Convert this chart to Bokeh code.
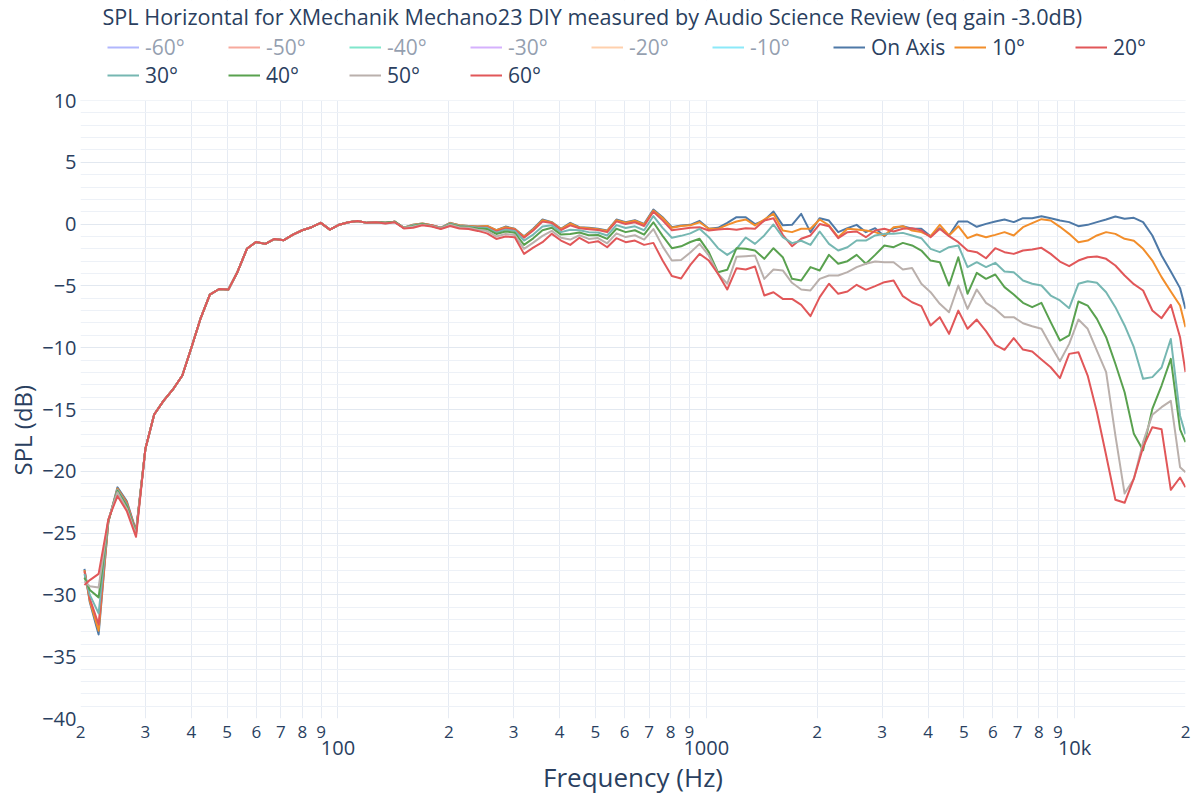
from bokeh.plotting import figure
from bokeh.models import (FixedTicker, LogAxis, Legend, LegendItem, Label, Range1d, Title,
                          CustomJSTickFormatter, BoxAnnotation)
from bokeh.embed import file_html
from bokeh.resources import INLINE

# ---------------- data ----------------
freq = [20.5, 21.2, 22.4, 23.8, 25.2, 26.7, 28.3, 30.0, 31.7, 33.6,
        35.6, 37.8, 40.0, 42.4, 44.9, 47.6, 50.4, 53.4, 56.6, 59.9,
        63.5, 67.3, 71.3, 75.5, 80.0, 84.8, 89.8, 95.1, 100.8, 106.8,
        113.1, 119.9, 127.0, 134.5, 142.5, 151.0, 160.0, 169.5, 179.6, 190.3,
        201.6, 213.6, 226.3, 239.7, 254.0, 269.1, 285.1, 302.0, 320.0, 339.0,
        359.2, 380.6, 403.2, 427.2, 452.5, 479.5, 508.0, 538.2, 570.2, 604.1,
        640.0, 678.0, 718.4, 761.1, 806.3, 854.3, 905.1, 958.9, 1016, 1076,
        1140, 1208, 1280, 1356, 1437, 1522, 1613, 1709, 1810, 1918,
        2032, 2153, 2281, 2417, 2560, 2712, 2874, 3044, 3225, 3417,
        3620, 3836, 4064, 4305, 4561, 4833, 5120, 5424, 5747, 6089,
        6451, 6834, 7241, 7671, 8127, 8611, 9123, 9665, 10240, 10849,
        11494, 12177, 12901, 13669, 14482, 15343, 16255, 17222, 18246, 19331,
        20000]

spl_on_axis = [-27.9, -30.6, -33.2, -24.1, -21.3, -22.4, -24.8,
               -18.2, -15.4, -14.3, -13.4, -12.25, -10.0, -7.6, -5.7, -5.25, -5.3, -3.85,
               -2.0, -1.45, -1.6, -1.2, -1.3, -0.85, -0.5, -0.25, 0.1, -0.45, -0.05,
               0.15, 0.25, 0.1, 0.15, 0.1, 0.2, -0.3, -0.05, 0.05, -0.1, -0.3, 0.1, -0.1,
               -0.15, -0.2, -0.15, -0.5, -0.2,
               -0.38, -0.98, -0.38, 0.37, 0.16, -0.38, 0.1, -0.25, -0.3, -0.38, -0.52,
               0.37, 0.16, 0.32, 0.02, 1.18, 0.56, -0.25, -0.11, -0.06, 0.26,
               -0.38, -0.3, 0.1, 0.56, 0.56, 0.0, 0.29, 1.02, -0.1, -0.06, 0.83, -0.65,
               0.48, 0.29, -0.65, -0.33, -0.06, -0.65, -0.33, -0.98, -0.33, -0.17, -0.38,
               -0.38, -0.98, -0.33, -0.92,
               0.21, 0.21, -0.22, 0.02, 0.21, 0.37, 0.16, 0.48, 0.48, 0.64, 0.48, 0.29,
               0.16, -0.17, -0.06, 0.16, 0.37, 0.61, 0.43, 0.51, 0.16, -0.92, -2.54,
               -3.84, -5.18, -6.86]

spl_10 = [-28.0, -30.5, -32.9, -24.1, -21.4, -22.5, -24.9,
          -18.2, -15.4, -14.3, -13.4, -12.25, -10.0, -7.6, -5.7, -5.25, -5.3, -3.85,
          -2.0, -1.45, -1.6, -1.2, -1.3, -0.85, -0.5, -0.25, 0.1, -0.45, -0.05,
          0.15, 0.25, 0.1, 0.15, 0.1, 0.2, -0.3, -0.05, 0.05, -0.1, -0.3, 0.1, -0.1,
          -0.15, -0.2, -0.15, -0.5, -0.25,
          -0.4, -1.02, -0.43, 0.32, 0.14, -0.4, 0.05, -0.28, -0.33, -0.41, -0.55,
          0.32, 0.11, 0.27, -0.03, 1.1, 0.5, -0.3, -0.15, -0.1, 0.15,
          -0.38, -0.38, -0.06, 0.21, 0.37, -0.11, 0.37, 0.83, -0.52, -0.65, -0.38,
          -0.38, 0.37, -0.11, -1.06, -0.38, -0.44, -0.52, -0.65, -0.92, -0.25, -0.17,
          -0.52, -0.65, -0.98, -0.06, -0.92,
          -0.17, -1.14, -0.84, -1.06, -0.87, -0.65, -0.92, -0.25, 0.08, 0.4, 0.29,
          -0.22, -0.79, -1.46, -1.33, -0.92, -0.65, -0.79, -1.19, -1.35, -2.0, -2.95,
          -4.29, -5.45, -6.59, -8.34]

spl_20 = [-28.1, -30.3, -32.4, -24.0, -21.5, -22.6, -24.9,
          -18.2, -15.4, -14.3, -13.4, -12.25, -10.0, -7.6, -5.7, -5.25, -5.3, -3.85,
          -2.0, -1.45, -1.6, -1.2, -1.3, -0.85, -0.5, -0.25, 0.1, -0.45, -0.05,
          0.15, 0.25, 0.1, 0.15, 0.1, 0.2, -0.3, -0.1, 0.0, -0.1, -0.3, 0.05, -0.15,
          -0.2, -0.25, -0.25, -0.6, -0.35,
          -0.45, -1.1, -0.52, 0.2, 0.08, -0.48, -0.1, -0.33, -0.42, -0.48, -0.65,
          0.22, 0.0, 0.15, -0.15, 1.0, 0.3, -0.5, -0.4, -0.3, -0.25,
          -0.52, -0.44, -0.38, -0.46, -0.33, -0.38, 0.29, 0.48, -0.87, -1.79, -1.19,
          -0.92, 0.0, -0.17, -1.14, -0.65, -0.6, -1.06, -0.52, -0.38, -0.6, -0.38,
          -0.33, -0.52, -1.06, -0.38, -0.98,
          -1.46, -2.14, -2.27, -2.76, -1.95, -2.27, -2.41, -2.14, -2.06, -1.92, -2.41,
          -3.03, -3.4, -2.95, -2.68, -2.62, -2.81, -3.35, -4.16, -4.86, -5.37, -6.99,
          -7.61, -6.53, -9.15, -11.98]

spl_30 = [-28.3, -30.0, -31.5, -24.0, -21.5, -22.7, -25.0,
          -18.2, -15.4, -14.3, -13.4, -12.25, -10.0, -7.6, -5.7, -5.25, -5.3, -3.85,
          -2.0, -1.45, -1.6, -1.2, -1.3, -0.85, -0.5, -0.25, 0.1, -0.45, -0.05,
          0.15, 0.25, 0.1, 0.15, 0.1, 0.2, -0.3, -0.1, 0.0, -0.15, -0.3, 0.05, -0.15,
          -0.2, -0.3, -0.3, -0.7, -0.45,
          -0.55, -1.33, -0.85, -0.2, -0.1, -0.65, -0.45, -0.5, -0.65, -0.68, -0.92,
          -0.08, -0.32, -0.18, -0.5, 0.65, -0.3, -1.1, -0.95, -0.75, -0.38,
          -1.06, -1.95, -2.49, -2.0, -1.08, -1.6, -0.92, -0.03, -1.06, -1.54, -1.35,
          -1.68, -0.6, -1.6, -2.14, -1.87, -1.33, -1.33, -0.92, -0.79, -0.79, -0.71,
          -0.92, -1.14, -2.0, -2.27, -1.87,
          -1.73, -3.48, -3.08, -3.48, -3.13, -3.84, -3.89, -4.56, -4.83, -4.97, -5.78,
          -6.18, -6.8, -4.83, -4.62, -4.75, -5.51, -6.72, -8.2, -9.96, -12.52, -12.38,
          -11.6, -9.3, -15.5, -17.0]

spl_40 = [-28.6, -29.6, -30.2, -24.0, -21.6, -22.8, -25.0,
          -18.2, -15.4, -14.3, -13.4, -12.25, -10.0, -7.6, -5.7, -5.25, -5.3, -3.85,
          -2.0, -1.45, -1.6, -1.2, -1.3, -0.85, -0.5, -0.25, 0.1, -0.45, -0.05,
          0.15, 0.25, 0.1, 0.15, 0.1, 0.2, -0.3, -0.15, 0.0, -0.15, -0.35, 0.0, -0.2,
          -0.25, -0.35, -0.4, -0.8, -0.6,
          -0.7, -1.68, -1.15, -0.5, -0.3, -0.85, -0.8, -0.68, -0.9, -0.88, -1.2,
          -0.38, -0.65, -0.5, -0.85, 0.15, -0.95, -1.95, -1.8, -1.45, -1.19,
          -2.27, -3.9, -3.7, -1.95, -2.0, -2.14, -2.81, -1.95, -2.68, -4.43, -4.56,
          -3.48, -3.75, -2.49, -3.21, -3.0, -2.49, -3.21, -2.49, -1.73, -1.87, -1.52,
          -1.73, -2.14, -2.95, -3.08, -4.97,
          -2.68, -5.64, -3.94, -4.43, -4.08, -5.1, -5.7, -6.37, -6.72, -6.37, -7.93,
          -9.42, -9.01, -6.26, -6.59, -7.67, -9.15, -11.3, -13.6, -16.97, -18.3, -14.95,
          -13.06, -10.9, -16.6, -17.64]

spl_50 = [-28.9, -29.3, -29.4, -23.9, -21.7, -23.0, -25.1,
          -18.2, -15.4, -14.3, -13.4, -12.25, -10.0, -7.6, -5.7, -5.25, -5.3, -3.85,
          -2.0, -1.45, -1.6, -1.2, -1.3, -0.85, -0.5, -0.25, 0.1, -0.45, -0.05,
          0.15, 0.25, 0.1, 0.15, 0.05, 0.15, -0.3, -0.2, -0.05, -0.15, -0.35, -0.05, -0.25,
          -0.3, -0.45, -0.55, -1.0, -0.8,
          -0.88, -2.0, -1.5, -0.95, -0.55, -1.1, -1.25, -0.9, -1.2, -1.13, -1.55,
          -0.75, -1.05, -0.9, -1.25, -0.4, -1.8, -2.95, -2.9, -2.3, -1.6,
          -2.54, -4.02, -4.83, -2.65, -2.6, -2.54, -4.43, -3.67, -3.75, -4.75, -5.29,
          -5.37, -4.43, -4.16, -4.16, -3.89, -3.48, -3.21, -3.03, -3.08, -3.08, -3.67,
          -3.56, -4.83, -5.51, -6.45, -7.13,
          -4.97, -6.86, -5.29, -6.37, -6.86, -7.53, -7.53, -8.02, -8.26, -8.47, -9.82,
          -11.1, -9.69, -7.72, -8.47, -10.23, -11.98, -17.1, -21.8, -20.6, -17.64, -15.43,
          -14.81, -14.3, -19.67, -20.07]

spl_60 = [-29.2, -28.8, -28.3, -23.9, -22.0, -23.2, -25.3,
          -18.2, -15.4, -14.3, -13.4, -12.25, -10.0, -7.6, -5.7, -5.25, -5.3, -3.85,
          -2.0, -1.45, -1.6, -1.2, -1.3, -0.85, -0.5, -0.25, 0.1, -0.45, -0.05,
          0.15, 0.25, 0.1, 0.15, 0.05, 0.15, -0.35, -0.3, -0.1, -0.2, -0.4, -0.15, -0.35,
          -0.4, -0.55, -0.75, -1.2, -1.0,
          -1.06, -2.41, -1.9, -1.46, -0.79, -1.33, -1.68, -1.11, -1.52, -1.38, -1.87,
          -1.14, -1.46, -1.33, -1.68, -1.52, -2.95, -4.2, -4.4, -3.3, -2.41,
          -2.95, -4.02, -5.29, -3.57, -3.67, -3.43, -5.78, -5.51, -6.05, -6.05, -6.53,
          -7.45, -5.91, -4.83, -5.64, -5.45, -4.91, -5.32, -5.02, -4.7, -4.56, -5.83,
          -6.32, -6.64, -8.2, -7.53, -8.88,
          -7.0, -8.47, -7.72, -8.66, -9.77, -10.17, -9.23, -10.15, -10.31, -10.95, -11.58,
          -12.46, -10.5, -10.36, -12.25, -15.2, -18.7, -22.3, -22.55, -20.6, -18.05, -16.43,
          -16.6, -21.5, -20.5, -21.3]

# legend-only traces (hidden in the chart, values not shown)
hidden_names = ["-60°", "-50°", "-40°", "-30°", "-20°", "-10°"]
hidden_colors = ["#636efa", "#ef553b", "#00cc96", "#ab63fa", "#ffa15a", "#19d3f3"]
hidden_x = [float("nan")]
hidden_y = [float("nan")]

shown_names = ["On Axis", "10°", "20°", "30°", "40°", "50°", "60°"]
shown_values = [spl_on_axis, spl_10, spl_20, spl_30, spl_40, spl_50, spl_60]
shown_colors = ["#4e79a7", "#f28e2b", "#e15759", "#76b7b2", "#59a14f", "#bab0ac", "#e15759"]

minor_x_ticks = [20, 30, 40, 50, 60, 70, 80, 90, 200, 300, 400, 500, 600, 700, 800, 900,
                 2000, 3000, 4000, 5000, 6000, 7000, 8000, 9000, 20000]
decade_x_ticks = [100, 1000, 10000]
y_ticks = [-40, -35, -30, -25, -20, -15, -10, -5, 0, 5, 10]
y_min, y_max = -40, 10

title_text = "SPL Horizontal for XMechanik Mechano23 DIY measured by Audio Science Review (eq gain -3.0dB)"

for s in shown_values:
    assert len(s) == len(freq), len(s)

# ---------------- layout ----------------
W, H = 1198, 798
FRAME_L, FRAME_R, FRAME_T, FRAME_B = 80, 1185, 100, 718   # plot-area box in pixels
HEADER = FRAME_T                                             # title + legend strip above the data
px_per_db = (FRAME_B - FRAME_T) / (y_max - y_min)
y_top = y_max + HEADER / px_per_db                           # range end that leaves the header strip

TEXT = "#2a3f5f"
FONT = "Open Sans"
GRID = "#e6ebf3"

p = figure(width=W, height=H, x_axis_type="log",
           x_range=Range1d(20, 20000), y_range=Range1d(y_min, y_top),
           output_backend="svg", toolbar_location=None,
           min_border_left=FRAME_L, min_border_right=W - FRAME_R,
           min_border_top=0, min_border_bottom=H - FRAME_B,
           background_fill_color="white", border_fill_color="white",
           outline_line_color=None)

# main x axis (2..9 labels)
xa = p.xaxis[0]
xa.ticker = FixedTicker(ticks=minor_x_ticks)
xa.formatter = CustomJSTickFormatter(code="""
const e = Math.floor(Math.log10(tick) + 1e-9);
return String(Math.round(tick / Math.pow(10, e)));
""")
xa.major_label_text_font = FONT
xa.major_label_text_font_size = "17px"
xa.major_label_text_color = TEXT
xa.major_label_standoff = 1
xa.axis_line_color = None
xa.major_tick_line_color = None
xa.minor_tick_line_color = None

# decade axis
xa2 = LogAxis(ticker=FixedTicker(ticks=decade_x_ticks),
              formatter=CustomJSTickFormatter(code="""
return tick >= 10000 ? (tick / 1000) + 'k' : String(tick);
"""))
xa2.major_label_text_font = FONT
xa2.major_label_text_font_size = "20px"
xa2.major_label_text_color = TEXT
xa2.major_label_standoff = -13
xa2.axis_line_color = None
xa2.major_tick_line_color = None
xa2.minor_tick_line_color = None
xa2.axis_label = "Frequency (Hz)"
xa2.axis_label_text_font = FONT
xa2.axis_label_text_font_size = "26px"
xa2.axis_label_text_font_style = "normal"
xa2.axis_label_text_color = TEXT
xa2.axis_label_standoff = -5
p.add_layout(xa2, "below")

ya = p.yaxis[0]
ya.bounds = (y_min, y_max)
ya.ticker = FixedTicker(ticks=y_ticks, minor_ticks=list(range(y_min, y_max + 1)))
ya.formatter = CustomJSTickFormatter(code="""
return tick < 0 ? '\u2212' + Math.abs(tick) : String(tick);
""")
ya.major_label_text_font = FONT
ya.major_label_text_font_size = "20px"
ya.major_label_text_color = TEXT
ya.major_label_standoff = -2
ya.axis_line_color = None
ya.major_tick_line_color = None
ya.minor_tick_line_color = None

# y-axis title on the left edge
ytitle = Title(text="SPL (dB)", align="left", offset=243, standoff=0,
               vertical_align="middle",
               text_font=FONT, text_font_size="24px", text_font_style="normal",
               text_color=TEXT)
p.add_layout(ytitle, "left")

p.xgrid.ticker = FixedTicker(ticks=sorted(minor_x_ticks + decade_x_ticks))
p.xgrid.grid_line_color = GRID
p.ygrid.grid_line_color = "#e2e8f0"
p.ygrid.minor_grid_line_color = "#edf1f7"

items = []
for name, col in zip(hidden_names, hidden_colors):
    r = p.line(x=hidden_x, y=hidden_y, line_color=col, line_width=2, visible=False)
    items.append(LegendItem(label=name, renderers=[r]))
for name, vals, col in zip(shown_names, shown_values, shown_colors):
    r = p.line(x=freq, y=vals, line_color=col, line_width=2, line_join="round")
    items.append(LegendItem(label=name, renderers=[r]))

# white strip above the data area (header for title + legend)
p.add_layout(BoxAnnotation(bottom=y_max, top=y_top, left=20, right=20000,
                           fill_color="white", fill_alpha=1.0, line_alpha=0))

legend = Legend(items=items, location=(27, FRAME_B - 89), orientation="horizontal", ncols=9,
                glyph_width=32, glyph_height=20, label_standoff=6, label_width=83,
                label_height=20, spacing=0, padding=0, margin=0,
                border_line_color=None, background_fill_alpha=0,
                label_text_font=FONT, label_text_font_size="21px",
                label_text_color=TEXT, click_policy="hide",
                inactive_fill_color="white", inactive_fill_alpha=0.5)
p.add_layout(legend)

title = Label(x=22, y=FRAME_B - 16, x_units="screen", y_units="screen", text=title_text,
              text_font=FONT, text_font_size="21.6px", text_color=TEXT,
              text_align="left", text_baseline="middle")
p.add_layout(title)

with open("out.html", "w", encoding="utf-8") as f:
    f.write(file_html(p, INLINE))
